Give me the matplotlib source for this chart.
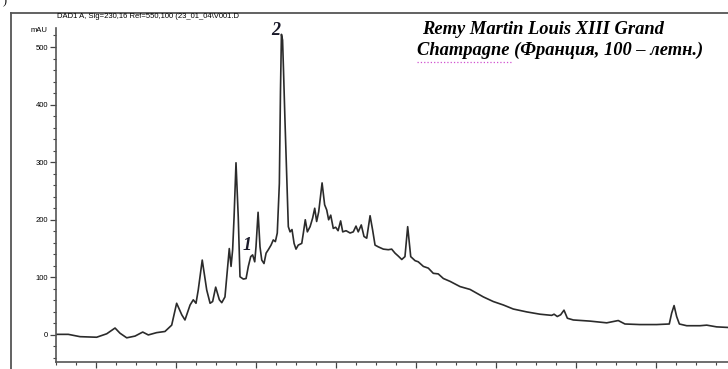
import numpy as np
import matplotlib
matplotlib.use('Agg')
import matplotlib.pyplot as plt
from matplotlib.lines import Line2D

# retention time (min) and absorbance (mAU)
t_min = [2.5, 3.27, 4.0, 5.04, 5.67, 6.19, 6.5, 6.92, 7.44, 7.92, 8.27, 8.79, 9.31, 9.73,
         10.04, 10.36, 10.56, 10.88, 11.08, 11.25, 11.39, 11.64, 11.92, 12.13, 12.29, 12.48,
         12.71, 12.86, 13.06, 13.23, 13.33, 13.44, 13.54, 13.63, 13.75, 13.89, 14.0, 14.21,
         14.38, 14.52, 14.67, 14.79, 14.92, 15.0, 15.13, 15.25, 15.36, 15.5, 15.63, 15.77,
         15.94, 16.08, 16.21, 16.33, 16.46, 16.53, 16.59, 16.66, 16.72, 16.81, 16.98, 17.02,
         17.13, 17.25, 17.38, 17.5, 17.64, 17.86, 17.96, 18.08, 18.21, 18.38, 18.54, 18.67,
         18.79, 18.92, 19.13, 19.29, 19.42, 19.54, 19.67, 19.83, 19.98, 20.13, 20.29, 20.42,
         20.63, 20.88, 21.08, 21.25, 21.39, 21.58, 21.75, 21.92, 22.13, 22.29, 22.44, 22.64,
         22.96, 23.27, 23.48, 23.69, 23.89, 24.11, 24.31, 24.48, 24.67, 24.94, 25.14, 25.46,
         25.77, 26.08, 26.39, 26.71, 27.13, 27.75, 28.38, 29.21, 29.83, 30.46, 31.08, 31.92,
         32.75, 33.48, 33.63, 33.83, 34.04, 34.25, 34.46, 34.83, 35.88, 36.92, 37.64, 38.06,
         39.0, 40.04, 40.83, 40.98, 41.13, 41.29, 41.46, 41.92, 42.75, 43.17, 43.79, 44.5]
mau = [1, 1, -3, -4, 2, 12, 3, -5, -2, 5, 0, 4, 6, 17,
       55, 35, 26, 52, 61, 55, 78, 130, 78, 55, 58, 83,
       61, 56, 66, 119, 150, 119, 148, 205, 299, 205, 101, 97,
       98, 119, 136, 139, 127, 153, 213, 153, 130, 124, 142, 148,
       156, 165, 162, 177, 263, 424, 522, 512, 459, 373, 223, 188,
       179, 183, 159, 149, 156, 159, 177, 200, 179, 188, 203, 220,
       197, 214, 264, 226, 217, 200, 208, 185, 187, 181, 198, 179,
       181, 177, 179, 189, 179, 191, 171, 168, 207, 182, 156, 153,
       149, 148, 149, 142, 137, 131, 136, 188, 136, 129, 127, 119,
       116, 107, 106, 98, 93, 84, 79, 66, 58, 52, 45, 40,
       36, 34, 36, 32, 35, 43, 29, 26, 24, 21, 25, 19,
       18, 18, 19, 38, 51, 32, 19, 16, 16, 17, 14, 13]

x_ticks = [5, 10, 15, 20, 25, 30, 35, 40]
y_ticks = [0, 100, 200, 300, 400, 500]

W, H = 728, 369
fig = plt.figure(figsize=(W / 100, H / 100), dpi=100)
ax = fig.add_axes([56 / W, 7 / H, 672 / W, 334 / H])

ax.plot(t_min, mau, color='#2b2b2b', lw=1.2)
ax.set_xlim(2.5, 44.5)
ax.set_ylim(-47, 533)

for s in ['top', 'right']:
    ax.spines[s].set_visible(False)
for s in ['left', 'bottom']:
    ax.spines[s].set_color('#555555')
    ax.spines[s].set_linewidth(1.2)

ax.set_xticks(x_ticks)
ax.set_xticks(np.arange(2.5, 45, 1.25), minor=True)
ax.set_yticks(y_ticks)
ax.set_yticks(np.arange(-40, 533, 20), minor=True)
ax.set_yticklabels([str(v) for v in y_ticks], fontsize=5.5, family='Liberation Sans')
ax.set_xticklabels([str(v) for v in x_ticks], fontsize=6, family='Liberation Sans')
ax.tick_params(which='major', length=4, width=0.9, color='#444444', pad=1.5)
ax.tick_params(which='minor', length=2.5, width=0.8, color='#444444')
ax.tick_params(axis='x', pad=1)

# peak labels
ax.text(16.25, 529, '2', fontsize=13, fontweight='bold', fontstyle='italic',
        family='Liberation Serif', color='#1a1a2a', ha='center', va='center', clip_on=False)
ax.text(14.44, 155, '1', fontsize=13, fontweight='bold', fontstyle='italic',
        family='Liberation Serif', color='#1a1a2a', ha='center', va='center')


def fx(px):
    return px / W


def fy(py):
    return 1 - py / H


# outer frame of the printout
fig.add_artist(Line2D([fx(11), fx(11)], [fy(13), fy(369)], color='#555555', lw=1.3))
fig.add_artist(Line2D([fx(11), fx(728)], [fy(13), fy(13)], color='#555555', lw=1.3))

fig.text(fx(57), fy(17), 'DAD1 A, Sig=230,16 Ref=550,100 (23_01_04\\V001.D',
         fontsize=5.5, family='Liberation Sans', va='center', ha='left')
fig.text(fx(47), fy(31), 'mAU', fontsize=5.5, family='Liberation Sans', va='center', ha='right')
fig.text(fx(3), fy(1), ')', fontsize=9, family='Liberation Serif', va='center', ha='left')

fig.text(fx(422), fy(30), 'Remy Martin Louis XIII Grand', fontsize=13.3, fontweight='bold',
         fontstyle='italic', family='Liberation Serif', va='center', ha='left')
fig.text(fx(417), fy(50), 'Champagne (Франция, 100 – летн.)', fontsize=13.3, fontweight='bold',
         fontstyle='italic', family='Liberation Serif', va='center', ha='left')
fig.add_artist(Line2D([fx(417), fx(512)], [fy(62), fy(62)], color='#d050d0', lw=0.9, ls=':'))

fig.savefig('out.png', dpi=100)
